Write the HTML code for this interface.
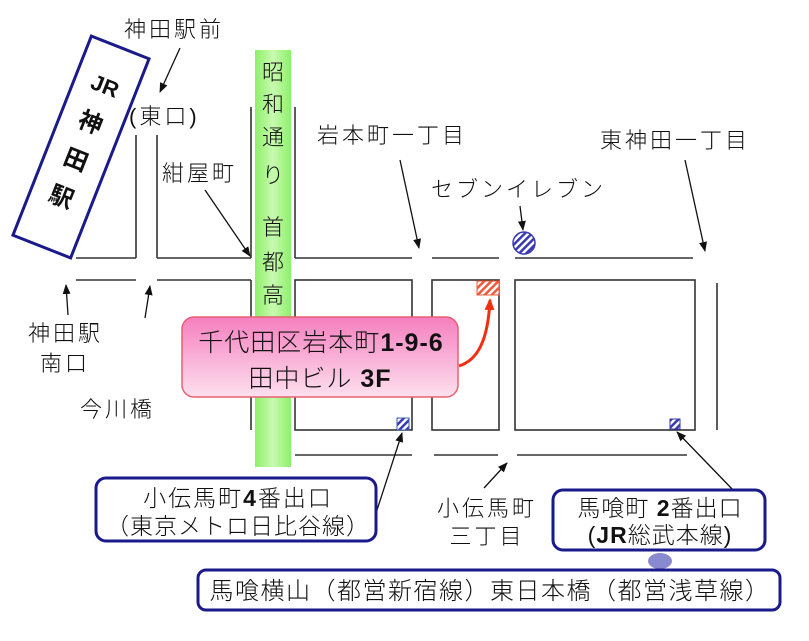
<!DOCTYPE html>
<html><head><meta charset="utf-8"><style>
html,body{margin:0;padding:0;background:#fff;}
svg{display:block;}
text{font-family:"Liberation Sans","Noto Sans CJK JP",sans-serif;fill:#111;font-weight:300;}
.s{letter-spacing:3px;}
</style></head><body>
<svg width="809" height="641" viewBox="0 0 809 641" xmlns="http://www.w3.org/2000/svg">
<defs>
<pattern id="hb" patternUnits="userSpaceOnUse" width="5" height="5" patternTransform="rotate(45)"><rect width="5" height="5" fill="#fff"/><rect width="2.5" height="5" fill="#3a3ab0"/></pattern>
<pattern id="hr" patternUnits="userSpaceOnUse" width="5" height="5" patternTransform="rotate(45)"><rect width="5" height="5" fill="#fff"/><rect width="2.5" height="5" fill="#f05a3a"/></pattern>
<linearGradient id="pk" x1="0" y1="0" x2="0" y2="1"><stop offset="0" stop-color="#f57fbf"/><stop offset="1" stop-color="#fde0ee"/></linearGradient>
<linearGradient id="gr" x1="0" y1="0" x2="1" y2="0"><stop offset="0" stop-color="#8ef06a"/><stop offset="0.5" stop-color="#c8fab0"/><stop offset="1" stop-color="#8ef06a"/></linearGradient>
<marker id="ar" markerWidth="10" markerHeight="10" refX="9" refY="5" orient="auto" markerUnits="userSpaceOnUse"><path d="M0,1 L10,5 L0,9 Z" fill="#111"/></marker>
<marker id="arr" markerWidth="12" markerHeight="12" refX="10" refY="6" orient="auto" markerUnits="userSpaceOnUse"><path d="M0,1 L12,6 L0,11 Z" fill="#f03010"/></marker>
</defs>
<rect x="255" y="50" width="36" height="417" fill="url(#gr)"/>
<g stroke="#333" stroke-width="1.6" fill="none">
<line x1="76" y1="258" x2="136" y2="258"/><line x1="157" y1="258" x2="251" y2="258"/>
<line x1="76" y1="280" x2="136" y2="280"/><line x1="157" y1="280" x2="251" y2="280"/>
<line x1="136" y1="135" x2="136" y2="258"/><line x1="157" y1="135" x2="157" y2="258"/>
<line x1="251" y1="107" x2="251" y2="258"/><line x1="295" y1="107" x2="295" y2="258"/>
<line x1="251" y1="280" x2="251" y2="430"/>
<line x1="295" y1="258" x2="412" y2="258"/><line x1="432" y1="258" x2="499" y2="258"/><line x1="515" y1="258" x2="693" y2="258"/>
<rect x="295" y="280" width="117" height="150"/>
<rect x="432" y="280" width="67" height="150"/>
<rect x="515" y="280" width="180" height="150"/>
<line x1="717" y1="283" x2="717" y2="430"/>
<line x1="295" y1="455" x2="412" y2="455"/><line x1="434" y1="455" x2="498" y2="455"/><line x1="517" y1="455" x2="687" y2="455"/>
</g>
<g stroke="#111" stroke-width="1.3" fill="none" marker-end="url(#ar)">
<line x1="180" y1="48" x2="160" y2="92"/>
<line x1="205" y1="190" x2="250" y2="256"/>
<line x1="400" y1="160" x2="419" y2="248"/>
<line x1="685" y1="160" x2="705" y2="251"/>
<line x1="520" y1="206" x2="523" y2="230"/>
<line x1="68" y1="315" x2="66" y2="285"/>
<line x1="145" y1="318" x2="150" y2="286"/>
<line x1="377" y1="510" x2="402" y2="433"/>
<line x1="735" y1="492" x2="677" y2="432"/>
<line x1="484" y1="488" x2="507" y2="463"/>
</g>
<g transform="translate(81,147) rotate(21.5)">
<rect x="-31" y="-107" width="62" height="214" fill="#fff" stroke="#1a1a8a" stroke-width="3"/>
<text x="0" y="-58" font-size="22" style="font-weight:bold" text-anchor="middle">JR</text>
<text x="0" y="-18" font-size="24" style="font-weight:bold" text-anchor="middle">神</text>
<text x="0" y="22" font-size="24" style="font-weight:bold" text-anchor="middle">田</text>
<text x="0" y="62" font-size="24" style="font-weight:bold" text-anchor="middle">駅</text>
</g>
<text class="s" x="124" y="37" font-size="22">神田駅前</text>
<text x="129" y="124" font-size="22" class="s">(東口)</text>
<text class="s" x="162" y="181" font-size="22">紺屋町</text>
<g font-size="22" text-anchor="middle">
<text x="273" y="80">昭</text><text x="273" y="112">和</text><text x="273" y="145">通</text><text x="273" y="183">り</text>
<text x="273" y="235">首</text><text x="273" y="270">都</text><text x="273" y="303">高</text>
</g>
<text class="s" x="317" y="143" font-size="22">岩本町一丁目</text>
<text class="s" x="600" y="148" font-size="22">東神田一丁目</text>
<text class="s" x="431" y="197" font-size="22">セブンイレブン</text>
<circle cx="524" cy="243" r="11" fill="url(#hb)" stroke="#3a3ab0" stroke-width="1.5"/>
<text class="s" x="28" y="341" font-size="22">神田駅</text>
<text class="s" x="40" y="371" font-size="22">南口</text>
<text class="s" x="80" y="417" font-size="22">今川橋</text>
<rect x="477" y="281" width="22" height="14" fill="url(#hr)" stroke="#f05a3a" stroke-width="1"/>
<rect x="397" y="418" width="12" height="12" fill="url(#hb)" stroke="#3a60b0" stroke-width="1"/>
<rect x="670" y="419" width="10" height="10" fill="url(#hb)" stroke="#3a3ab0" stroke-width="1"/>
<rect x="182" y="317" width="276" height="80" rx="12" fill="url(#pk)" stroke="#e86070" stroke-width="1.5"/>
<text x="321" y="351" font-size="25" text-anchor="middle" style="letter-spacing:1px">千代田区岩本町<tspan style="font-weight:bold">1-9-6</tspan></text>
<text x="320" y="387" font-size="25" text-anchor="middle" style="letter-spacing:1px">田中ビル <tspan style="font-weight:bold">3F</tspan></text>
<path d="M459,366 C478,360 488,340 490,300" stroke="#f03010" stroke-width="3" fill="none" marker-end="url(#arr)"/>
<rect x="96" y="478" width="280" height="63" rx="10" fill="#fff" stroke="#1a1a8a" stroke-width="3"/>
<text x="238" y="506" font-size="23" text-anchor="middle" style="letter-spacing:2px">小伝馬町<tspan style="font-weight:bold">4</tspan>番出口</text>
<text x="238" y="534" font-size="23" text-anchor="middle" style="letter-spacing:1px">（東京メトロ日比谷線）</text>
<text class="s" x="487" y="516" font-size="22" text-anchor="middle">小伝馬町</text>
<text class="s" x="487" y="544" font-size="22" text-anchor="middle">三丁目</text>
<ellipse cx="660" cy="561" rx="12" ry="8" fill="#3a3ab0" opacity="0.6"/>
<rect x="553" y="490" width="212" height="60" rx="10" fill="#fff" stroke="#1a1a8a" stroke-width="3"/>
<text x="660" y="516" font-size="23" text-anchor="middle" style="letter-spacing:1px">馬喰町 <tspan style="font-weight:bold">2</tspan>番出口</text>
<text x="660" y="543" font-size="23" text-anchor="middle" style="letter-spacing:1px">(<tspan style="font-weight:bold">JR</tspan>総武本線)</text>
<rect x="198" y="570" width="582" height="40" rx="8" fill="#fff" stroke="#1a1a8a" stroke-width="3"/>
<text x="490" y="599" font-size="24" text-anchor="middle" style="letter-spacing:1.5px">馬喰横山（都営新宿線）東日本橋（都営浅草線）</text>
</svg>
</body></html>
